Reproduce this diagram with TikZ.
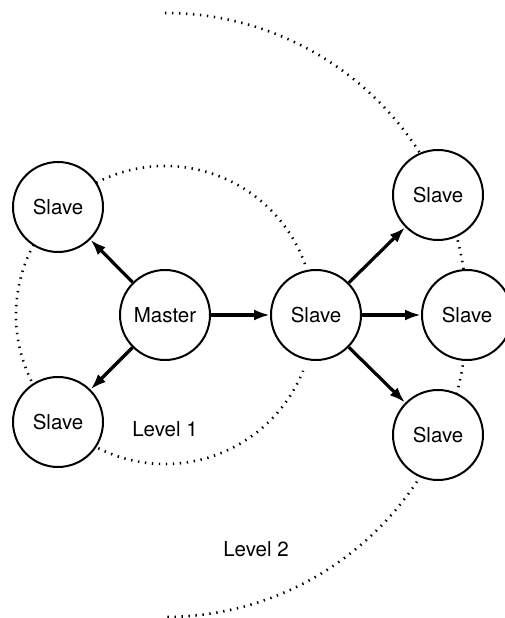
\documentclass[tikz,border=0pt]{standalone}
\usepackage{fontspec}
\setmainfont{TeX Gyre Heros}
\usetikzlibrary{arrows.meta,positioning,calc}

\begin{document}
\begin{tikzpicture}[x=1pt,y=1pt,
    peer/.style={circle,draw,line width=2pt,fill=white,minimum size=90pt,inner sep=0pt,
      font=\fontsize{20.5}{25}\selectfont},
    link/.style={line width=3.2pt,-{Latex[length=16pt,width=11pt]}},
    level/.style={line width=2.6pt,dash pattern=on 1.4pt off 5.6pt}]
  \useasboundingbox (0,0) rectangle (504,618);
  % levels
  \coordinate (c) at (165,303);
  \draw[level] ($(c)+(20:149)$) arc[start angle=20,end angle=338,radius=149];
  \draw[level] ($(c)+(90:302)$) arc[start angle=90,end angle=-90,radius=302];
  % nodes
  \node[peer] (master) at (c) {Master};
  \node[peer] (tl) at (58,411) {Slave};
  \node[peer] (bl) at (58,196) {Slave};
  \node[peer] (mid) at (316,303) {Slave};
  \node[peer] (rt) at (438,423) {Slave};
  \node[peer] (rm) at (467,303) {Slave};
  \node[peer] (rb) at (438,183) {Slave};
  \node[font=\fontsize{20.5}{25}\selectfont] (lv1) at (165,189) {Level 1};
  \node[font=\fontsize{20.5}{25}\selectfont] (lv2) at (256,69) {Level 2};
  % links
  \draw[link] (master) -- (tl);
  \draw[link] (master) -- (bl);
  \draw[link] (master) -- (mid);
  \draw[link] (mid) -- (rt);
  \draw[link] (mid) -- (rm);
  \draw[link] (mid) -- (rb);
\end{tikzpicture}
\end{document}
